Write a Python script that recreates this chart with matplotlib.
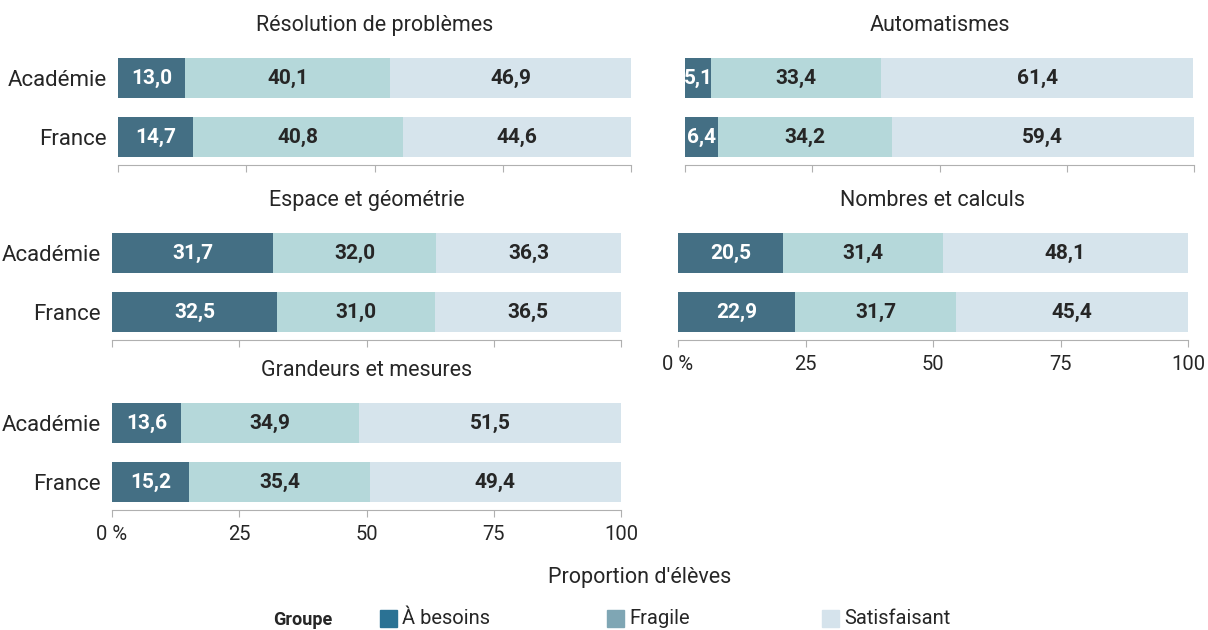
import matplotlib.pyplot as plt
import numpy as np

plt.rcParams['font.family'] = ['Roboto', 'DejaVu Sans']

# données
titres = ["Résolution de problèmes", "Automatismes", "Espace et géométrie",
          "Nombres et calculs", "Grandeurs et mesures"]
lignes = ["Académie", "France"]
groupes = ["À besoins", "Fragile", "Satisfaisant"]
besoins = [[13.0, 14.7], [5.1, 6.4], [31.7, 32.5], [20.5, 22.9], [13.6, 15.2]]
fragile = [[40.1, 40.8], [33.4, 34.2], [32.0, 31.0], [31.4, 31.7], [34.9, 35.4]]
satisf = [[46.9, 44.6], [61.4, 59.4], [36.3, 36.5], [48.1, 45.4], [51.5, 49.4]]
ticks = [0, 25, 50, 75, 100]
tick_labels = ["0 %", "25", "50", "75", "100"]

couleurs = ["#446f84", "#b5d8da", "#d6e4ec"]
couleurs_leg = ["#2b7294", "#7fa6b4", "#d5e3ec"]

W, H = 1208, 630
fig = plt.figure(figsize=(W / 100, H / 100), dpi=100)

# position (gauche, droite, ligne d'axe) en pixels
cadres = [(118, 631, 165), (685, 1194, 165), (112, 621, 340),
          (678, 1188, 340), (112, 621, 510)]
avec_labels_y = [True, False, True, False, True]
avec_ticks = [False, False, False, True, True]

for i, (x0, x1, yb) in enumerate(cadres):
    ax = fig.add_axes([x0 / W, 1 - yb / H, (x1 - x0) / W, 115 / H])
    ypos = np.array([1, 0])
    gauche = np.zeros(2)
    for j, serie in enumerate([besoins[i], fragile[i], satisf[i]]):
        vals = np.array(serie)
        ax.barh(ypos, vals, left=gauche, height=0.68, color=couleurs[j])
        for y, g, v in zip(ypos, gauche, vals):
            ax.text(g + v / 2, y, f"{v:.1f}".replace(".", ","), ha="center",
                    va="center", fontsize=15, fontweight="bold",
                    color="white" if j == 0 else "#262626")
        gauche = gauche + vals
    ax.set_xlim(0, 100)
    ax.set_ylim(-0.47, 1.48)
    for s in ["top", "right", "left"]:
        ax.spines[s].set_visible(False)
    ax.spines["bottom"].set_color("#b0b0b0")
    ax.set_xticks(ticks)
    ax.tick_params(axis="x", length=5, color="#b0b0b0", labelsize=14.5,
                   labelcolor="#262626", pad=6)
    if avec_ticks[i]:
        ax.set_xticklabels(tick_labels)
    else:
        ax.set_xticklabels([])
    if avec_labels_y[i]:
        ax.set_yticks(ypos)
        ax.set_yticklabels(lignes, fontsize=16, color="#262626")
        ax.tick_params(axis="y", length=0, pad=8)
    else:
        ax.set_yticks([])
    ax.set_title(titres[i], fontsize=15.5, color="#262626", pad=14)

fig.text(640 / W, 1 - 577 / H, "Proportion d'élèves", ha="center", va="center",
         fontsize=15.5, color="#262626")

# légende
fig.text(303 / W, 1 - 620 / H, "Groupe", ha="center", va="center",
         fontsize=13, fontweight="bold", color="#262626")
for k, (xl, nom) in enumerate(zip([380, 607, 822], groupes)):
    fig.patches.append(plt.Rectangle((xl / W, 1 - 627 / H), 17 / W, 17 / H,
                                     transform=fig.transFigure,
                                     color=couleurs_leg[k]))
    fig.text((xl + 22) / W, 1 - 619 / H, nom, ha="left", va="center",
             fontsize=14.5, color="#262626")

fig.savefig("out.png", dpi=100)
